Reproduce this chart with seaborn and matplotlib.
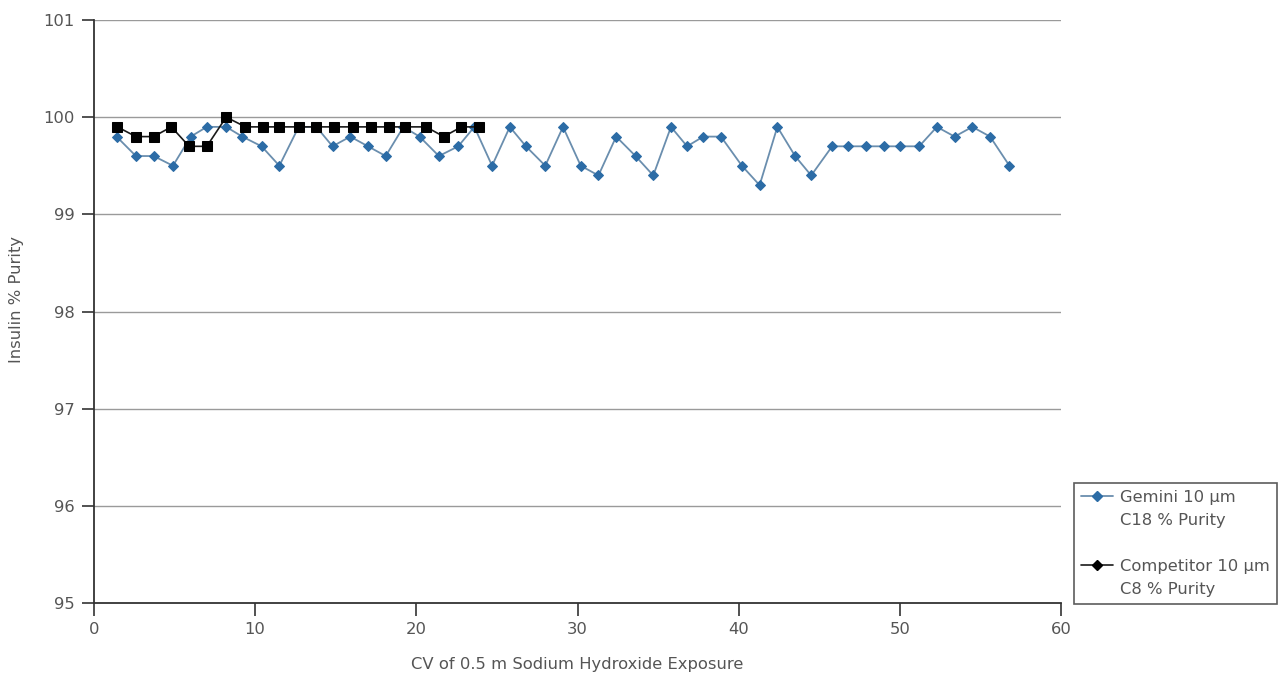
import matplotlib
matplotlib.use("Agg")
import matplotlib.pyplot as plt
from matplotlib.lines import Line2D
from matplotlib.legend_handler import HandlerLine2D
import seaborn as sns
import pandas as pd

gemini_x = [1.4, 2.6, 3.7, 4.9, 6.0, 7.0, 8.2, 9.2, 10.4, 11.5, 12.7, 13.8, 14.8,
            15.9, 17.0, 18.1, 19.2, 20.2, 21.4, 22.6, 23.6, 24.7, 25.8, 26.8,
            28.0, 29.1, 30.2, 31.3, 32.4, 33.6, 34.7, 35.8, 36.8, 37.8, 38.9,
            40.2, 41.3, 42.4, 43.5, 44.5, 45.8, 46.8, 47.9, 49.0, 50.0, 51.2,
            52.3, 53.4, 54.5, 55.6, 56.8]
gemini_y = [99.8, 99.6, 99.6, 99.5, 99.8, 99.9, 99.9, 99.8, 99.7, 99.5, 99.9, 99.9,
            99.7, 99.8, 99.7, 99.6, 99.9, 99.8, 99.6, 99.7, 99.9, 99.5, 99.9, 99.7,
            99.5, 99.9, 99.5, 99.4, 99.8, 99.6, 99.4, 99.9, 99.7, 99.8, 99.8, 99.5,
            99.3, 99.9, 99.6, 99.4, 99.7, 99.7, 99.7, 99.7, 99.7, 99.7, 99.9, 99.8,
            99.9, 99.8, 99.5]

comp_x = [1.45, 2.6, 3.7, 4.8, 5.9, 7.0, 8.2, 9.4, 10.5, 11.5, 12.7, 13.8, 14.9,
          16.1, 17.2, 18.3, 19.3, 20.6, 21.7, 22.8, 23.9]
comp_y = [99.9, 99.8, 99.8, 99.9, 99.7, 99.7, 100.0, 99.9, 99.9, 99.9, 99.9, 99.9,
          99.9, 99.9, 99.9, 99.9, 99.9, 99.9, 99.8, 99.9, 99.9]

x_ticks = [0, 10, 20, 30, 40, 50, 60]
y_ticks = [95, 96, 97, 98, 99, 100, 101]
series_labels = ["Gemini 10 µm\nC18 % Purity", "Competitor 10 µm\nC8 % Purity"]
x_label = "CV of 0.5 m Sodium Hydroxide Exposure"
y_label = "Insulin % Purity"

sns.set_theme(style="white")
plt.rcParams['font.family'] = ['DejaVu Sans']

FS = 11.8

fig = plt.figure(figsize=(12.78, 6.75), dpi=100)
ax = fig.add_axes([94 / 1278, 1 - 603 / 675, (1061 - 94) / 1278, (603 - 20) / 675])

blue_line = "#6a8eae"
blue_mark = "#2c6ca6"
dark = "#1a1a1a"
text_c = "#555555"

df_g = pd.DataFrame({"x": gemini_x, "y": gemini_y})
df_c = pd.DataFrame({"x": comp_x, "y": comp_y})

sns.lineplot(data=df_g, x="x", y="y", ax=ax, color=blue_line, linewidth=1.3,
             marker="D", markersize=5.5, markerfacecolor=blue_mark,
             markeredgecolor=blue_mark, estimator=None, sort=False, zorder=3)
sns.lineplot(data=df_c, x="x", y="y", ax=ax, color=dark, linewidth=1.2,
             marker="s", markersize=7.5, markerfacecolor="black",
             markeredgecolor="black", estimator=None, sort=False, zorder=4)

ax.set_xlim(0, 60)
ax.set_ylim(95, 101)
ax.set_xticks(x_ticks)
ax.set_yticks(y_ticks)
ax.set_xticklabels([str(t) for t in x_ticks])
ax.set_yticklabels([str(t) for t in y_ticks])

for yv in y_ticks[1:]:
    ax.axhline(yv, color="#9a9a9a", linewidth=1.0, zorder=1)

for s in ["top", "right"]:
    ax.spines[s].set_visible(False)
for s in ["left", "bottom"]:
    ax.spines[s].set_color("#333333")
    ax.spines[s].set_linewidth(1.3)

ax.tick_params(axis="both", which="major", direction="out", length=9, width=1.2,
               color="#333333", labelsize=FS, labelcolor=text_c, pad=5,
               bottom=True, left=True)

ax.set_xlabel(x_label, fontsize=FS, color=text_c, labelpad=14)
ax.set_ylabel(y_label, fontsize=FS, color=text_c)
ax.yaxis.set_label_coords(-0.072, 0.52)


class TopHandler(HandlerLine2D):
    def create_artists(self, legend, orig_handle, xdescent, ydescent, width,
                       height, fontsize, trans):
        artists = super().create_artists(legend, orig_handle, xdescent, ydescent,
                                         width, height, fontsize, trans)
        for a in artists:
            a.set_ydata([y + 0.85 * fontsize for y in a.get_ydata()])
        return artists


handles = [
    Line2D([0], [0], color=blue_line, linewidth=1.3, marker="D", markersize=5.5,
           markerfacecolor=blue_mark, markeredgecolor=blue_mark),
    Line2D([0], [0], color=dark, linewidth=1.2, marker="D", markersize=5.5,
           markerfacecolor="black", markeredgecolor="black"),
]
leg = fig.legend(handles, series_labels, loc="upper left",
                 bbox_to_anchor=(1074 / 1278, 1 - 483 / 675),
                 frameon=True, fancybox=False, fontsize=FS, handlelength=1.9,
                 handletextpad=0.45, labelspacing=1.9, borderpad=0.45,
                 borderaxespad=0, handler_map={Line2D: TopHandler()})
leg.get_frame().set_edgecolor("#333333")
leg.get_frame().set_linewidth(1.2)
for t in leg.get_texts():
    t.set_color(text_c)
    t.set_linespacing(1.65)

fig.savefig("out.png", dpi=100)
